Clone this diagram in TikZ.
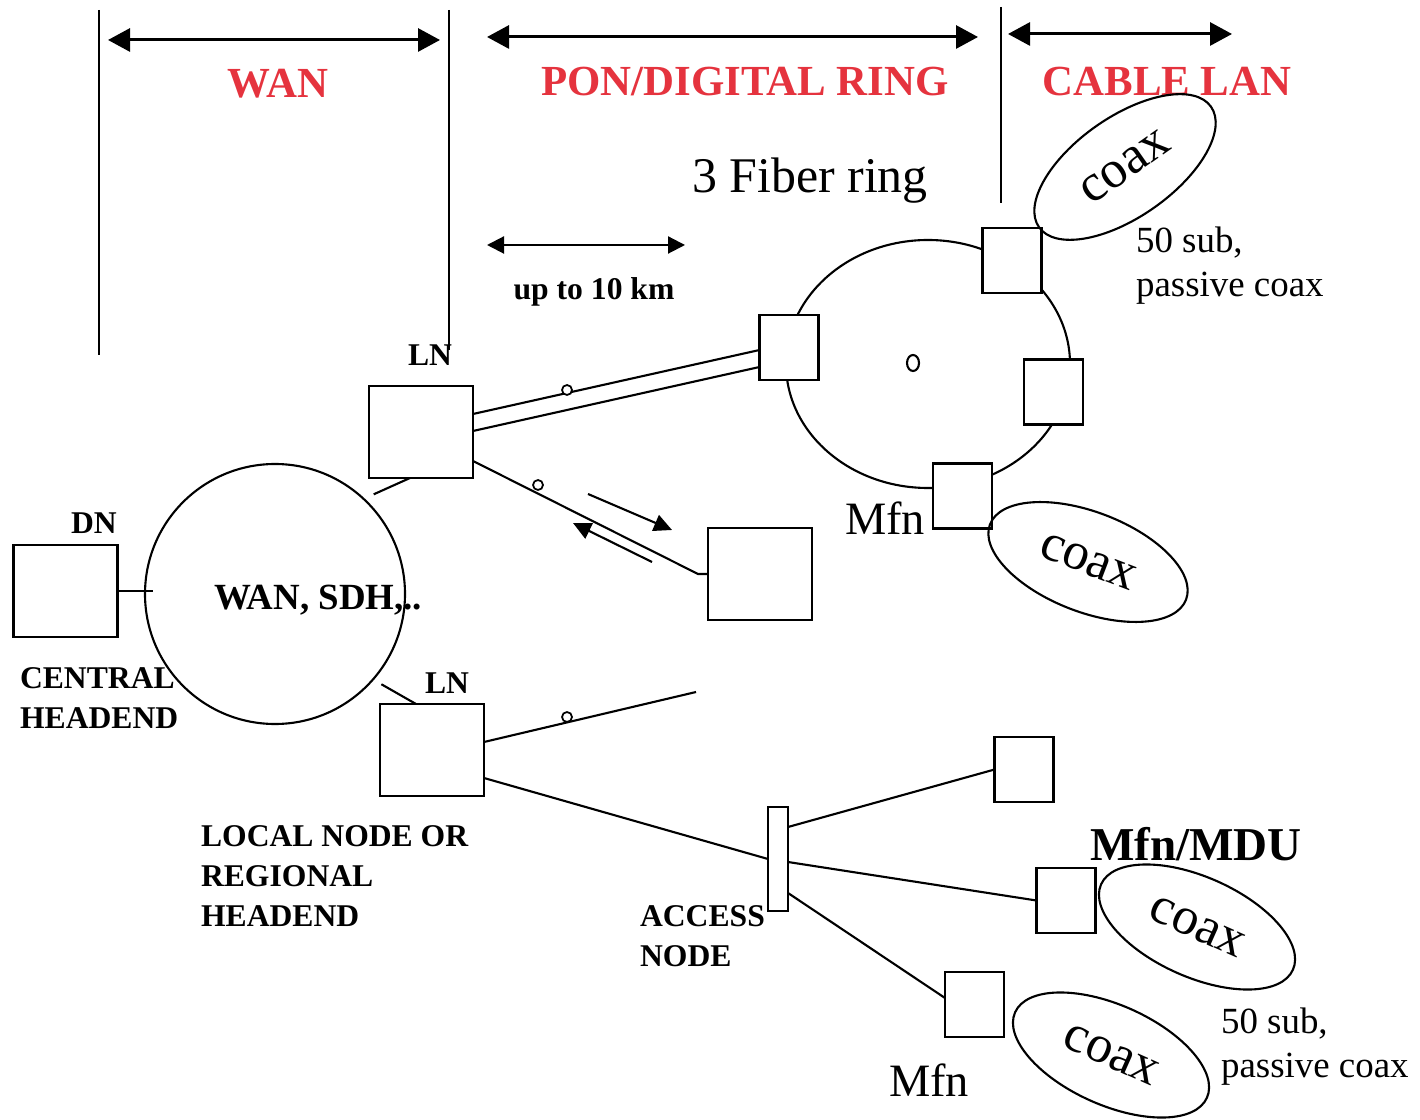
\documentclass[tikz,border=0pt]{standalone}
\usepackage{fontspec}
\setmainfont{Liberation Serif}
\usetikzlibrary{arrows.meta,shapes.geometric}
\definecolor{titlered}{RGB}{229,51,62}

\begin{document}
\begin{tikzpicture}[x=0.1mm, y=-0.1mm, line width=0.6pt,
    box/.style = {draw, rectangle, fill=white, inner sep=0pt, outer sep=0pt},
    big/.style = {box, minimum width=10.4mm, minimum height=9.2mm},
    small/.style = {box, minimum width=5.9mm, minimum height=6.5mm},
    coax/.style = {draw, ellipse, inner sep=0pt, minimum width=21mm, minimum height=10mm, font=\fontsize{15}{17}\selectfont},
    pin/.style = {draw, circle, fill=white, inner sep=0pt, minimum size=1mm, line width=0.5pt},
    title/.style = {text=titlered, font=\bfseries\fontsize{12.2}{14}\selectfont, anchor=base},
    tag/.style = {font=\bfseries\fontsize{9}{11}\selectfont, anchor=base},
    block/.style = {font=\bfseries\fontsize{9}{11.4}\selectfont, align=left, anchor=north west, inner sep=0pt},
    note/.style = {font=\fontsize{10.5}{12.5}\selectfont, align=left, anchor=north west, inner sep=0pt},
    span/.style = {line width=0.85pt, <->, >={Triangle[length=2.2mm,width=2.3mm]}},
    flow/.style = {->, >={Triangle[length=1.8mm,width=1.7mm]}}]
    \useasboundingbox (0,0) rectangle (1420,1120);

    \draw (99,10) -- (99,355);
    \draw (449,10) -- (449,350);
    \draw (1001,7) -- (1001,203);
    \draw[span] (108,40) -- (440,40);
    \draw[span] (487,37) -- (978,37);
    \draw[span] (1008,34) -- (1232,34);
    \draw[<->, >={Triangle[length=1.7mm,width=1.7mm]}] (487,245) -- (685,245);

    \node[title] (wanT) at (278,98) {WAN};
    \node[title] (ponT) at (745,96) {PON/DIGITAL RING};
    \node[title] (cabT) at (1167,96) {CABLE LAN};
    \node[anchor=base, font=\fontsize{14.2}{16}\selectfont] (fiber) at (810,193) {3 Fiber ring};
    \node[tag] (km) at (594,300) {up to 10 km};

    \node[draw, circle, minimum size=26mm, inner sep=0pt] (wan) at (275,594) {};
    \node[anchor=base west, inner sep=0pt, font=\bfseries\fontsize{10.5}{12}\selectfont] (sdh) at (213,610) {WAN, SDH,..};

    \node[big] (DN) at (65.5,591) {};
    \node[tag] (dnT) at (94,534) {DN};
    \node[block] (central) at (19,666) {CENTRAL\\HEADEND};
    \draw (DN.east) -- (DN.east -| wan.west) -- ++(0.9mm,0);

    \node[big] (LNa) at (421,432) {};
    \node[tag] (lnaT) at (430,366) {LN};
    \node[big] (LNb) at (432,750) {};
    \node[tag] (lnbT) at (447,693) {LN};
    \node[block] (local) at (200,824) {LOCAL NODE OR\\REGIONAL\\HEADEND};
    \draw ([xshift=-1.1mm]LNa.south) -- ([shift={(0.6mm,0.7mm)}]wan.45);
    \draw ([xshift=-1.6mm]LNb.north) -- ([shift={(0.6mm,-0.6mm)}]wan.-40);

    \draw (928,364) ellipse [x radius=142, y radius=124];
    \node[small] (R1) at (789,347.5) {};
    \node[small] (R2) at (1012,260.5) {};
    \node[small] (R3) at (1053.5,392) {};
    \node[small] (R4) at (962.5,496) {};
    \node[draw, ellipse, inner sep=0pt, minimum width=1.2mm, minimum height=1.6mm] (hub) at (913,363) {};
    \node[anchor=base, font=\fontsize{13.2}{15}\selectfont] (mfnA) at (885,535) {Mfn};

    \node[coax, rotate=35] (cxA) at (1125,167) {coax};
    \node[coax, rotate=-21] (cxB) at (1088,562) {coax};
    \node[note] (subA) at (1135,226) {50 sub,\\passive coax};

    \draw ([yshift=1.8mm]LNa.east) -- ([yshift=-0.25mm]R1.west);
    \draw ([yshift=0.1mm]LNa.east) -- ([yshift=-1.95mm]R1.west);
    \node[pin] (pA) at (567,390) {};

    \node[big] (Dst) at (760,574) {};
    \draw ([yshift=-2.9mm]LNa.east) -- ([xshift=-1mm]Dst.west) -- (Dst.west);
    \node[pin] (pB) at (538,485) {};
    \draw[flow] (588,494) -- (672,530);
    \draw[flow] (652,562) -- (573,523);

    \coordinate (open) at (696,692);
    \draw ([yshift=0.8mm]LNb.east) -- (open);
    \node[pin] (pC) at (567,717) {};

    \node[box, minimum width=2mm, minimum height=10.4mm] (acc) at (778,859) {};
    \draw ([yshift=-2.8mm]LNb.east) -- (acc.west);
    \node[block] (accT) at (639,904) {ACCESS\\NODE};

    \node[small] (M1) at (1024,769.5) {};
    \node[small] (M2) at (1066,900.5) {};
    \node[small] (M3) at (974.5,1004.5) {};
    \draw ([yshift=3.2mm]acc.east) -- (M1.west);
    \draw ([yshift=-0.3mm]acc.east) -- (M2.west);
    \draw ([yshift=-3.4mm]acc.east) -- ([yshift=0.65mm]M3.west);

    \node[anchor=base, font=\bfseries\fontsize{13.4}{15}\selectfont] (mdu) at (1196,860) {Mfn/MDU};
    \node[coax, rotate=-24] (cxC) at (1197,927) {coax};
    \node[coax, rotate=-24] (cxD) at (1111,1055) {coax};
    \node[anchor=base, font=\fontsize{13.2}{15}\selectfont] (mfnB) at (929,1096) {Mfn};
    \node[note] (subB) at (1220,1007) {50 sub,\\passive coax};
\end{tikzpicture}
\end{document}
